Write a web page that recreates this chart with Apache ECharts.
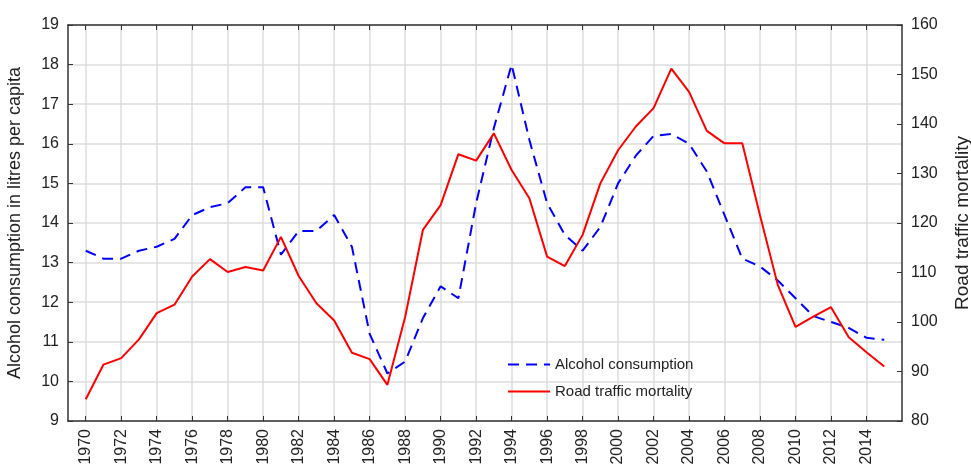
<!DOCTYPE html>
<html>
<head>
<meta charset="utf-8">
<script src="https://cdn.jsdelivr.net/npm/echarts@6/dist/echarts.min.js"></script>
<style>
  html, body { margin: 0; padding: 0; background: #fff; }
  #chart { width: 971px; height: 470px; }
</style>
</head>
<body>
<div id="chart"></div>
<script>
// 年份 1970-2015
var years = [1970, 1971, 1972, 1973, 1974, 1975, 1976, 1977, 1978, 1979,
             1980, 1981, 1982, 1983, 1984, 1985, 1986, 1987, 1988, 1989,
             1990, 1991, 1992, 1993, 1994, 1995, 1996, 1997, 1998, 1999,
             2000, 2001, 2002, 2003, 2004, 2005, 2006, 2007, 2008, 2009,
             2010, 2011, 2012, 2013, 2014, 2015];
// 酒精消费 (左轴)
var alcohol = [13.3, 13.1, 13.1, 13.3, 13.4, 13.6, 14.2, 14.4, 14.5, 14.9,
               14.9, 13.2, 13.8, 13.8, 14.2, 13.4, 11.2, 10.2, 10.5, 11.6,
               12.4, 12.1, 14.5, 16.4, 18.0, 16.1, 14.5, 13.7, 13.3, 13.9,
               15.0, 15.7, 16.2, 16.25, 16.0, 15.3, 14.2, 13.1, 12.9, 12.55,
               12.1, 11.65, 11.5, 11.35, 11.1, 11.05];
// 道路交通死亡率 (右轴)
var mortality = [84.4, 91.4, 92.7, 96.5, 101.8, 103.5, 109.2, 112.7, 110.1, 111.1,
                 110.4, 117.2, 109.3, 103.8, 100.3, 93.8, 92.5, 87.3, 101.0, 118.6,
                 123.6, 133.9, 132.6, 138.1, 130.7, 125.0, 113.2, 111.3, 117.6, 128.0,
                 134.7, 139.5, 143.2, 151.2, 146.5, 138.6, 136.1, 136.1, 121.5, 107.5,
                 99.0, 101.1, 103.0, 96.9, 93.9, 91.0];

// 两端各留一年空白
var cats = [1969].concat(years, [2016]).map(String);
function pad(arr) { return [null].concat(arr, [null]); }
function evenYear(idx, val) {
    var y = +val;
    return y % 2 === 0 && y >= 1970 && y <= 2014;
}

var myChart = echarts.init(document.getElementById('chart'));
var font = 'Liberation Sans, Arial, sans-serif';
var axisColor = '#333';

myChart.setOption({
    animation: false,
    grid: { left: 68, right: 69, top: 25, bottom: 49, outerBoundsMode: 'none' },
    legend: {
        orient: 'vertical',
        left: 502,
        top: 352,
        itemWidth: 42,
        itemHeight: 10,
        itemGap: 12,
        itemStyle: { opacity: 0 },   // 图例不显示圆点
        textStyle: { fontFamily: font, fontSize: 15, color: '#222' },
        data: ['Alcohol consumption', 'Road traffic mortality']
    },
    xAxis: [{
        type: 'category',
        data: cats,
        boundaryGap: false,
        axisLine: { lineStyle: { color: axisColor, width: 1.5 } },
        axisTick: { inside: true, length: 5, interval: evenYear, lineStyle: { color: axisColor } },
        axisLabel: {
            interval: evenYear,
            rotate: 90,
            margin: 8,
            fontFamily: font,
            fontSize: 16,
            color: '#222'
        },
        splitLine: { show: true, interval: evenYear, lineStyle: { color: '#dcdcdc', width: 1.5 } }
    }, {
        type: 'category',
        data: cats,
        position: 'top',
        boundaryGap: false,
        axisLine: { lineStyle: { color: axisColor, width: 1.5 } },
        axisTick: { inside: true, length: 5, interval: evenYear, lineStyle: { color: axisColor } },
        axisLabel: { show: false },
        splitLine: { show: false }
    }],
    yAxis: [{
        type: 'value',
        min: 9,
        max: 19,
        interval: 1,
        name: 'Alcohol consumption in litres per capita',
        nameLocation: 'middle',
        nameGap: 44,
        nameTextStyle: { fontFamily: font, fontSize: 18, color: '#222' },
        axisLine: { show: true, lineStyle: { color: axisColor, width: 1.5 } },
        axisTick: { show: true, inside: true, length: 5, lineStyle: { color: axisColor } },
        axisLabel: { fontFamily: font, fontSize: 16, color: '#222', margin: 9 },
        splitLine: { lineStyle: { color: '#dcdcdc', width: 1.5 } }
    }, {
        type: 'value',
        min: 80,
        max: 160,
        interval: 10,
        position: 'right',
        name: 'Road traffic mortality',
        nameLocation: 'middle',
        nameGap: 51,
        nameRotate: 90,
        nameTextStyle: { fontFamily: font, fontSize: 19, color: '#222' },
        axisLine: { show: true, lineStyle: { color: axisColor, width: 1.5 } },
        axisTick: { show: true, inside: true, length: 5, lineStyle: { color: axisColor } },
        axisLabel: { fontFamily: font, fontSize: 16, color: '#222', margin: 9 },
        splitLine: { show: false }
    }],
    series: [{
        name: 'Alcohol consumption',
        type: 'line',
        yAxisIndex: 0,
        symbol: 'none',
        data: pad(alcohol),
        itemStyle: { color: '#0000ff' },
        lineStyle: { color: '#0000ff', width: 2, type: [11, 7] }
    }, {
        name: 'Road traffic mortality',
        type: 'line',
        yAxisIndex: 1,
        symbol: 'none',
        data: pad(mortality),
        itemStyle: { color: '#ff0000' },
        lineStyle: { color: '#ff0000', width: 2 }
    }]
});
</script>
</body>
</html>
